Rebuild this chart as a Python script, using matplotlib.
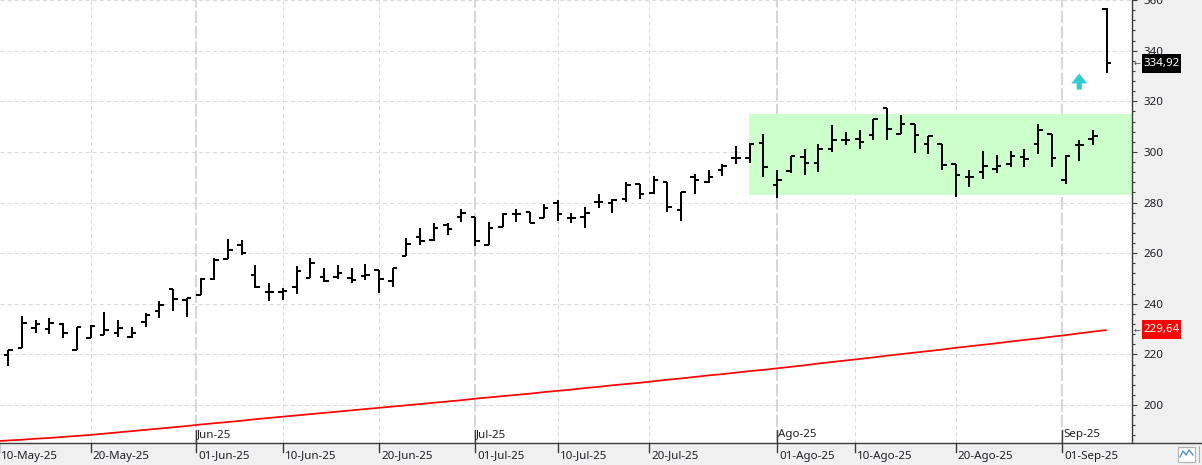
import numpy as np
import pandas as pd
import matplotlib
matplotlib.use("Agg")
import matplotlib.pyplot as plt
from matplotlib.patches import Rectangle, Polygon
from matplotlib.collections import LineCollection
import matplotlib.transforms as mtransforms

plt.rcParams['font.family'] = ['Noto Sans', 'DejaVu Sans']
plt.rcParams['lines.scale_dashes'] = False

# ---------------- data ----------------
holidays = ['2025-05-26', '2025-06-19', '2025-07-04', '2025-09-01']
days = pd.bdate_range('2025-05-09', '2025-09-05')
days = days[~days.isin(pd.to_datetime(holidays))]   # days[0] = 09-May (MA only)

opens = [219.7, 222.6, 230.3, 229.9, 232.0, 221.7, 226.3, 227.5, 228.3, 226.7,
         232.7, 237.2, 246.0, 241.4, 243.5, 249.7, 257.8, 263.2, 251.2, 244.5,
         244.5, 246.6, 250.1, 250.5, 250.5, 250.1, 250.8, 253.4, 248.8, 258.7,
         266.3, 265.0, 271.1, 274.4, 274.4, 263.3, 270.5, 275.4, 276.3, 273.7,
         280.0, 274.0, 274.1, 280.3, 280.0, 281.2, 287.2, 283.9, 288.0, 277.0,
         289.9, 288.2, 292.8, 297.6, 297.4, 303.5, 286.9, 292.4, 297.8, 295.7,
         301.3, 304.8, 305.2, 306.8, 317.4, 307.2, 311.1, 303.0, 303.0, 295.1,
         289.9, 292.2, 293.2, 295.2, 297.8, 303.0, 306.9, 288.9, 302.6, 305.2,
         356.5]
highs = [221.7, 235.2, 233.6, 234.3, 232.3, 231.0, 231.6, 236.8, 233.6, 230.7,
         236.2, 241.1, 246.0, 242.4, 250.1, 257.9, 265.5, 265.3, 255.4, 248.4,
         246.4, 255.0, 258.0, 254.1, 255.4, 254.1, 255.8, 253.4, 254.1, 265.8,
         269.8, 272.0, 271.8, 277.6, 274.4, 272.2, 275.7, 277.6, 276.3, 279.6,
         280.9, 275.9, 278.3, 283.5, 281.2, 288.1, 287.2, 290.6, 288.0, 284.0,
         291.2, 292.8, 295.2, 302.2, 303.5, 307.2, 292.8, 298.4, 301.3, 303.3,
         310.5, 307.8, 308.5, 313.1, 317.4, 314.4, 311.1, 306.3, 303.0, 295.1,
         292.8, 300.3, 298.7, 300.3, 301.3, 311.1, 306.9, 298.7, 304.6, 308.8,
         356.7]
lows = [215.5, 222.4, 228.3, 227.9, 226.3, 221.7, 226.3, 227.5, 227.0, 226.3,
        231.0, 234.3, 237.3, 234.9, 243.5, 249.4, 257.8, 259.1, 246.4, 241.2,
        241.6, 244.0, 250.1, 248.6, 249.7, 248.2, 249.5, 244.2, 246.6, 258.7,
        263.3, 264.6, 267.2, 272.4, 262.9, 263.3, 270.5, 272.4, 271.8, 273.7,
        272.7, 271.8, 269.8, 277.9, 275.7, 280.3, 281.2, 283.5, 276.3, 272.8,
        283.4, 287.6, 290.6, 295.2, 295.7, 290.2, 281.7, 291.5, 290.8, 291.9,
        300.0, 302.6, 301.3, 304.8, 304.8, 307.2, 299.7, 299.0, 292.8, 282.3,
        286.3, 289.2, 291.8, 294.1, 293.9, 299.0, 293.9, 287.2, 296.5, 302.6,
        331.3]
closes = [221.7, 232.3, 231.9, 232.3, 228.3, 230.7, 231.4, 229.6, 230.3, 228.3,
          235.4, 239.4, 241.8, 242.3, 249.8, 257.1, 261.1, 260.0, 246.8, 244.5,
          244.9, 253.0, 256.1, 248.8, 252.1, 249.2, 251.2, 249.9, 254.1, 263.5,
          264.8, 270.1, 269.4, 275.7, 264.8, 270.1, 275.4, 275.4, 271.8, 278.0,
          275.4, 274.0, 275.7, 280.3, 280.9, 286.8, 283.5, 288.7, 278.3, 284.0,
          288.9, 290.2, 294.4, 297.6, 303.0, 293.9, 288.9, 298.3, 295.7, 301.0,
          304.8, 304.8, 303.9, 313.1, 309.2, 311.1, 306.5, 306.3, 295.0, 291.0,
          289.9, 294.4, 294.4, 298.3, 297.0, 308.5, 297.6, 298.3, 302.6, 306.1,
          334.92]
# moving average, starting 09-May
ma200 = [185.7, 186.0, 186.3, 186.7, 187.0, 187.4, 187.8, 188.2, 188.7, 189.2,
         189.7, 190.2, 190.7, 191.2, 191.7, 192.3, 192.8, 193.3, 193.8, 194.4,
         194.9, 195.4, 195.9, 196.4, 196.9, 197.4, 197.9, 198.4, 198.9, 199.4,
         199.9, 200.4, 200.9, 201.4, 201.9, 202.5, 203.0, 203.5, 204.0, 204.5,
         205.1, 205.6, 206.1, 206.7, 207.2, 207.8, 208.3, 208.8, 209.4, 210.0,
         210.5, 211.1, 211.7, 212.2, 212.8, 213.4, 213.9, 214.5, 215.1, 215.7,
         216.4, 217.0, 217.6, 218.2, 218.8, 219.5, 220.1, 220.7, 221.3, 221.9,
         222.6, 223.2, 223.8, 224.4, 225.1, 225.7, 226.3, 227.0, 227.6, 228.3,
         229.0, 229.64]

x_label_dates = ['2025-05-10', '2025-05-20', '2025-06-01', '2025-06-10', '2025-06-20',
                 '2025-07-01', '2025-07-10', '2025-07-20', '2025-08-01', '2025-08-10',
                 '2025-08-20', '2025-09-01']
x_labels = ['10-May-25', '20-May-25', '01-Jun-25', '10-Jun-25', '20-Jun-25',
            '01-Jul-25', '10-Jul-25', '20-Jul-25', '01-Ago-25', '10-Ago-25',
            '20-Ago-25', '01-Sep-25']
month_dates = ['2025-06-01', '2025-07-01', '2025-08-01', '2025-09-01']
month_labels = ['Jun-25', 'Jul-25', 'Ago-25', 'Sep-25']

zone_dates = ['2025-07-30', '2025-09-08']
zone_low, zone_high = 283.0, 315.0
signal_date = '2025-09-03'
signal_low, signal_high = 324.6, 331.0

y_ticks = [200, 220, 240, 260, 280, 300, 320, 340, 360]

# ---------------- positions ----------------
W, H = 1202, 465
pos_all = np.arange(len(days)) - 1          # 09-May -> -1, 12-May -> 0
bar_x = pos_all[1:]


def date_pos(d):
    d = pd.Timestamp(d)
    return float(np.interp(d.value, days.asi8, pos_all,
                           right=pos_all[-1] + (d - days[-1]).days / 7 * 5))


fig = plt.figure(figsize=(W / 100, H / 100), dpi=100)
fig.patch.set_facecolor('#f0f0f0')
ax_l, ax_r, ax_t, ax_b = 0, 1132, 0, 443
ax = fig.add_axes([ax_l / W, 1 - ax_b / H, (ax_r - ax_l) / W, (ax_b - ax_t) / H])
ax.set_facecolor('white')
ax.set_xlim(-0.605, 81.84)
ax.set_ylim(185.0, 360.0)

# grid
grid_kw = dict(color='#dadada', linewidth=0.75, dashes=(2.9, 2.2), zorder=0)
for yv in y_ticks:
    ax.axhline(yv, **grid_kw)
month_pos = [date_pos(d) for d in month_dates]
lab_pos = [date_pos(d) for d in x_label_dates]
for p, d in zip(lab_pos, x_label_dates):
    if d in month_dates:
        ax.axvline(p, color='#d2d2d2', linewidth=1.3, dashes=(9, 2.2), zorder=0)
    else:
        ax.axvline(p, **grid_kw)

# zone
z0 = date_pos(zone_dates[0]) - 0.05
z1 = date_pos(zone_dates[1]) + 0.04
ax.add_patch(Rectangle((z0, zone_low), z1 - z0, zone_high - zone_low,
                       facecolor='#ccffcc', edgecolor='none', zorder=1))

# moving average
ax.plot(pos_all, ma200, color='#ff0000', linewidth=1.25, zorder=2,
        solid_capstyle='butt')

# OHLC bars
tk = 0.33
segs = []
for x, o, h, l, c in zip(bar_x, opens, highs, lows, closes):
    segs.append([(x, l), (x, h)])
    segs.append([(x - tk, o), (x, o)])
    segs.append([(x, c), (x + tk, c)])
ax.add_collection(LineCollection(segs, colors='black', linewidths=1.45,
                                 capstyle='butt', zorder=3))

# signal arrow
sx = date_pos(signal_date)
hh = 3.95
ax.add_patch(Polygon([(sx - 0.19, signal_low), (sx + 0.19, signal_low),
                      (sx + 0.19, signal_high - hh), (sx + 0.58, signal_high - hh),
                      (sx, signal_high), (sx - 0.58, signal_high - hh),
                      (sx - 0.19, signal_high - hh)],
                     closed=True, facecolor='#33cccc', edgecolor='none', zorder=4))

# axes styling
for s in ['left', 'top', 'bottom']:
    ax.spines[s].set_visible(False)
ax.spines['right'].set_color('#3c3c3c')
ax.spines['right'].set_linewidth(1.0)
ax.yaxis.tick_right()
ax.set_yticks(y_ticks)
ax.set_yticks(np.arange(188, 360, 4), minor=True)
ax.set_yticklabels([str(v) for v in y_ticks])
ax.tick_params(axis='y', which='major', direction='out', length=3.8, width=0.8,
               color='#3c3c3c', pad=4.3, labelsize=8.3, labelcolor='#1e1e28')
ax.tick_params(axis='y', which='minor', direction='out', length=2.2, width=0.8,
               color='#3c3c3c')
ax.set_xticks([])

# bottom axis line across
fig.add_artist(plt.Line2D([0, 1], [1 - ax_b / H] * 2, color='#3c3c3c',
                          linewidth=1.0, transform=fig.transFigure))

# date ticks and labels
trans_x = mtransforms.blended_transform_factory(ax.transData, fig.transFigure)
px = (ax.get_xlim()[1] - ax.get_xlim()[0]) / (ax_r - ax_l)
for p, lab, d in zip(lab_pos, x_labels, x_label_dates):
    top = 430 if d in month_dates else 443
    fig.add_artist(plt.Line2D([p, p], [1 - top / H, 1 - 452 / H], color='#3c3c3c',
                              linewidth=1.0, transform=trans_x, clip_on=False))
    fig.text(p + 2.2 * px, 1 - 456 / H, lab, transform=trans_x, ha='left',
             va='center', fontsize=8.3, color='#1e1e28')
for p, lab in zip(month_pos, month_labels):
    fig.text(p + 1.2 * px, 1 - 435 / H, lab, transform=trans_x, ha='left',
             va='center', fontsize=8.3, color='#1e1e28')

# value tags on the right axis
trans_y = mtransforms.blended_transform_factory(fig.transFigure, ax.transData)
unit = (ax.get_ylim()[1] - ax.get_ylim()[0]) / (ax_b - ax_t)


def tag(val, face):
    txt = f"{val:.2f}".replace('.', ',')
    h = 19 * unit
    fig.add_artist(Rectangle((1142 / W, val - h / 2), 39 / W, h, transform=trans_y,
                             facecolor=face, edgecolor='none', clip_on=False))
    fig.text(1161.5 / W, val, txt, transform=trans_y, ha='center', va='center',
             fontsize=8.3, color='white')
    fig.text(1137 / W, val, '\u2190', transform=trans_y, ha='center', va='center',
             fontsize=6, color='#505050', family='DejaVu Sans')


tag(closes[-1], 'black')
tag(ma200[-1], '#ff0000')

# small icon at bottom right
fig.add_artist(Rectangle((1178 / W, 1 - 462 / H), 17 / W, 15 / H,
                         transform=fig.transFigure, facecolor='white',
                         edgecolor='#b0b0b0', linewidth=0.8))
fig.add_artist(plt.Line2D(np.array([1180, 1183, 1186, 1189, 1193]) / W,
                          1 - np.array([457, 451, 455, 450, 455]) / H,
                          color='#4a90d9', linewidth=1.0, transform=fig.transFigure))
fig.add_artist(plt.Line2D([1199 / W, 1199 / W], [1 - 462 / H, 1 - 446 / H],
                          color='#b0b0b0', linewidth=0.8, transform=fig.transFigure))

fig.savefig('out.png', dpi=100, facecolor=fig.get_facecolor())
